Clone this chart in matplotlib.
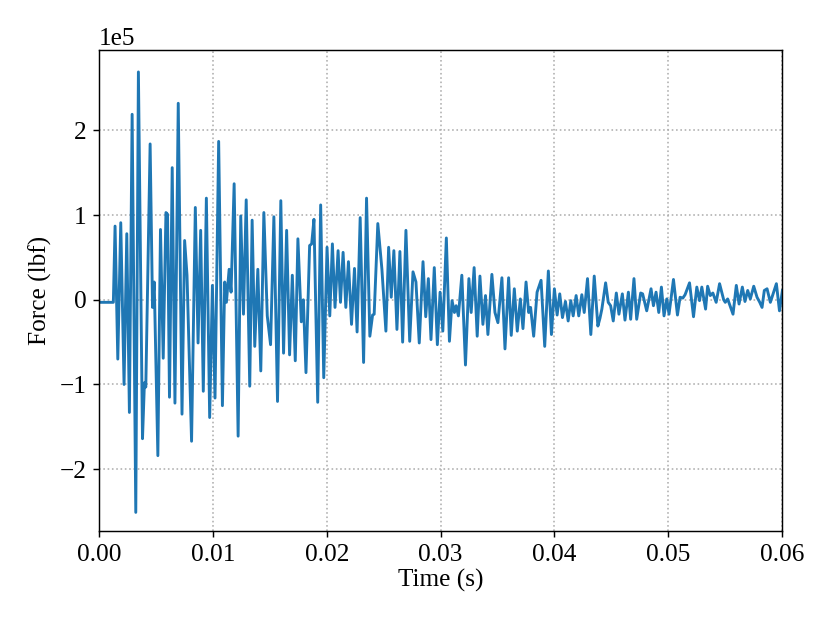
import numpy as np
import matplotlib
matplotlib.use("Agg")
import matplotlib.pyplot as plt

plt.rcParams['font.family'] = ['Liberation Serif', 'DejaVu Serif']
plt.rcParams['mathtext.fontset'] = 'stix'
plt.rcParams['font.size'] = 14

# tiempo en ms (pontos extremos)
tempo_ms = [
    0.00, 1.26, 1.41, 1.65, 1.91, 2.20, 2.44, 2.67, 2.91, 3.23, 3.46, 3.82, 3.99, 4.11,
    4.49, 4.70, 4.85, 5.17, 5.40, 5.64, 5.88, 6.02, 6.19, 6.43, 6.67, 6.96, 7.29, 7.52,
    7.73, 8.13, 8.46, 8.70, 8.93, 9.16, 9.43, 9.72, 9.96, 10.19, 10.51, 10.84, 11.04,
    11.19, 11.43, 11.60, 11.87, 12.22, 12.45, 12.69, 12.93, 13.24, 13.45, 13.68, 13.95,
    14.21, 14.48, 14.78, 15.07, 15.36, 15.68, 15.97, 16.21, 16.48, 16.74, 16.98, 17.24,
    17.47, 17.77, 17.95, 18.18, 18.50, 18.68, 18.88, 19.21, 19.47, 19.74, 20.03, 20.27,
    20.50, 20.73, 21.00, 21.21, 21.44, 21.68, 21.91, 22.18, 22.44, 22.67, 22.94, 23.24,
    23.50, 23.79, 24.03, 24.17, 24.49, 24.85, 25.20, 25.44, 25.67, 25.90, 26.17, 26.43,
    26.67, 26.96, 27.29, 27.58, 27.84, 28.13, 28.46, 28.70, 28.93, 29.16, 29.45, 29.72,
    29.96, 30.20, 30.51, 30.78, 31.01, 31.22, 31.37, 31.57, 31.87, 32.19, 32.49, 32.69,
    32.95, 33.22, 33.46, 33.72, 33.95, 34.16, 34.51, 34.78, 35.04, 35.39, 35.66, 35.98,
    36.21, 36.48, 36.74, 37.01, 37.24, 37.51, 37.74, 37.91, 38.18, 38.48, 38.83, 39.15,
    39.47, 39.74, 40.00, 40.24, 40.47, 40.71, 40.97, 41.21, 41.44, 41.65, 41.91, 42.14,
    42.41, 42.62, 42.91, 43.20, 43.50, 43.82, 44.00, 44.17, 44.50, 44.73, 44.94, 45.17,
    45.44, 45.67, 45.97, 46.20, 46.50, 46.70, 46.99, 47.23, 47.58, 47.75, 48.11, 48.49,
    48.70, 48.93, 49.17, 49.40, 49.63, 49.87, 50.07, 50.46, 50.81, 51.04, 51.28, 51.48,
    51.87, 52.22, 52.51, 52.75, 52.95, 53.28, 53.46, 53.69, 53.92, 54.21, 54.51, 54.87,
    55.01, 55.22, 55.69, 55.98, 56.22, 56.51, 56.74, 56.98, 57.21, 57.51, 57.80, 58.04,
    58.24, 58.44, 58.68, 58.97, 59.50, 59.77, 60.03,
]

# forca em unidades de 1e5 lbf
forca_1e5 = [
    -0.03, -0.03, 0.87, -0.70, 0.91, -1.00, 0.78, -1.33, 2.19, -2.51, 2.69, -1.64, -0.98, -1.03,
    1.84, -0.09, 0.21, -1.84, 0.83, -0.69, 1.03, 1.01, -1.15, 1.56, -1.22, 2.32, -1.35, 0.70,
    0.29, -1.67, 1.09, -0.51, 0.82, -1.08, 1.20, -1.39, 0.17, -1.16, 1.87, -1.25, 0.21,
    -0.03, 0.36, 0.09, 1.37, -1.61, 0.99, -0.17, 1.18, -1.02, 0.94, -0.55, 0.36,
    -0.84, 1.03, -0.19, -0.53, 0.98, -1.20, 1.17, -0.63, 0.82, -0.65, 0.29, -0.72,
    0.72, -0.26, 0.00, -0.86, 0.64, 0.66, 0.95, -1.21, 1.12, -0.92, 0.62, -0.19,
    0.66, -0.09, 0.58, -0.03, 0.56, -0.09, 0.45, -0.29, 0.37, -0.38, 0.97, -0.74,
    1.20, -0.43, -0.18, -0.17, 0.90, 0.36, -0.37, 0.62, 0.03, 0.58, -0.35, 0.57,
    -0.50, 0.82, -0.49, 0.33, 0.21, -0.51, 0.45, -0.20, 0.25, -0.47, 0.38, -0.53,
    0.09, -0.37, 0.73, -0.49, -0.01, -0.15, -0.07, -0.19, 0.29, -0.77, 0.25, -0.15,
    0.38, -0.43, 0.28, -0.29, 0.05, -0.41, 0.30, -0.15, -0.27, 0.26, -0.58, 0.26,
    -0.42, 0.13, -0.37, 0.01, -0.34, 0.21, -0.15, -0.09, -0.43, 0.09, 0.23, -0.55,
    0.34, -0.41, 0.13, -0.18, 0.07, -0.21, -0.02, -0.25, -0.01, -0.19, 0.05, -0.19,
    0.06, -0.15, 0.25, -0.41, 0.28, -0.31, -0.22, -0.11, 0.20, -0.03, -0.07, -0.25,
    0.08, -0.17, 0.07, -0.24, 0.09, -0.23, 0.25, -0.23, 0.08, 0.07, -0.13, 0.13,
    -0.07, 0.09, -0.15, 0.15, -0.19, 0.01, -0.17, 0.24, -0.18, 0.03, 0.02, 0.06,
    0.20, -0.20, 0.15, -0.01, 0.15, -0.11, 0.16, 0.05, 0.08, -0.03, 0.19, 0.00,
    -0.03, 0.01, -0.17, 0.17, -0.05, 0.15, -0.02, 0.11, 0.01, 0.16, 0.03, -0.03,
    -0.09, 0.11, 0.13, -0.03, 0.19, -0.13, 0.11,
]

t = np.array(tempo_ms) / 1000.0
f = np.array(forca_1e5) * 1e5

fig, ax = plt.subplots(figsize=(6.4, 4.8), dpi=130)
fig.subplots_adjust(left=0.119, right=0.94, top=0.92, bottom=0.149)

ax.plot(t, f, color='#1f77b4', linewidth=1.6)
ax.set_xlim(0, 0.06)
ax.set_ylim(-2.73e5, 2.95e5)
ax.ticklabel_format(axis='y', style='sci', scilimits=(0, 0))
ax.set_xlabel('Time (s)', labelpad=2)
ax.set_ylabel('Force (lbf)')
ax.grid(True, linestyle=':', color='#b0b0b0', linewidth=0.9)

plt.savefig('out.png')
